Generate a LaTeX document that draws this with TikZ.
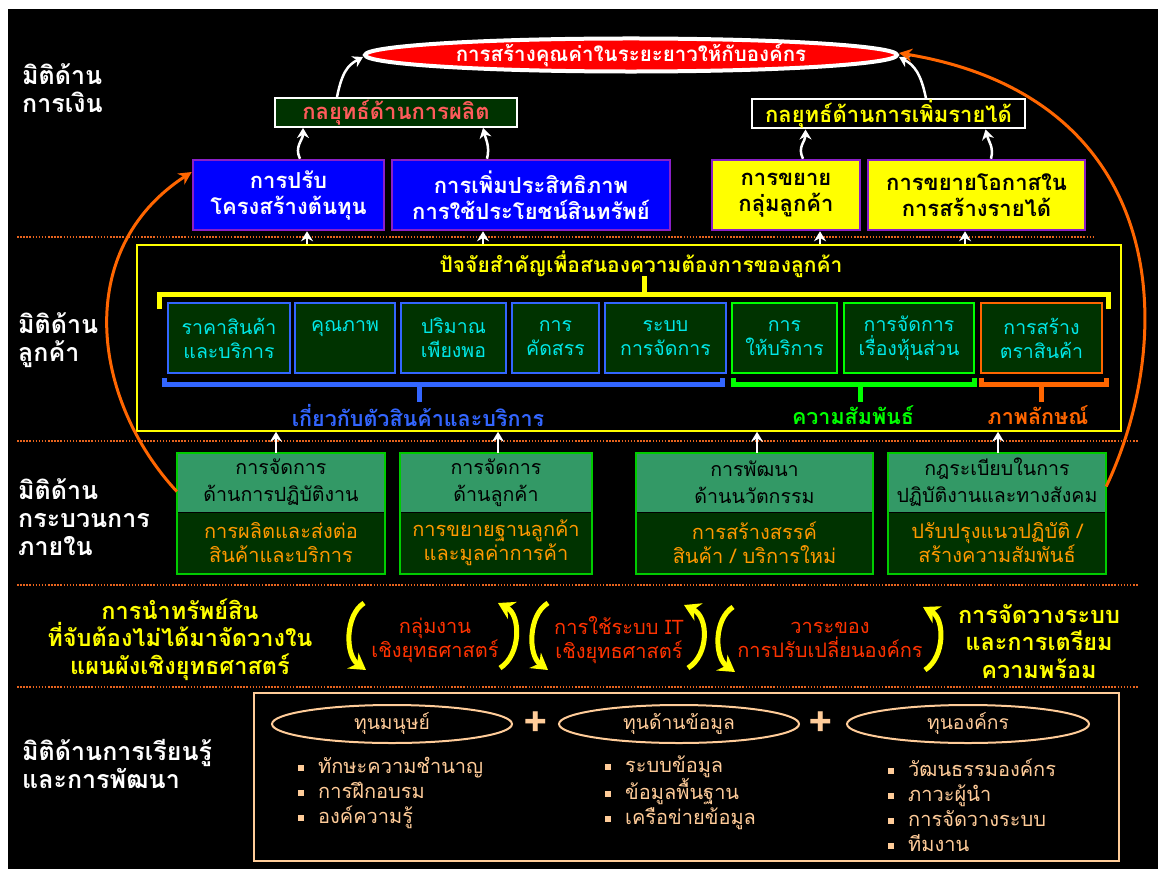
\documentclass[tikz,border=0pt]{standalone}
\usepackage{fontspec}
\newfontfamily\thf[Script=Thai]{Loma}
\usetikzlibrary{shapes.geometric,arrows.meta,calc}
\newcommand\myfs[2]{\fontsize{#1}{#2}\selectfont}
\definecolor{boxpurple}{HTML}{8A1FC8}
\definecolor{dkgreen}{HTML}{003300}
\definecolor{stratred}{HTML}{FF5B5B}
\definecolor{cyantext}{HTML}{00E8E8}
\definecolor{cblue}{HTML}{3366FF}
\definecolor{cgreen}{HTML}{00FF00}
\definecolor{corange}{HTML}{FF6600}
\definecolor{pgreen}{HTML}{00CC00}
\definecolor{midgreen}{HTML}{339966}
\definecolor{ptext}{HTML}{FF9900}
\definecolor{rtext}{HTML}{FF3300}
\definecolor{peach}{HTML}{FFCC99}
\definecolor{sepor}{HTML}{E8641E}
\definecolor{yel}{HTML}{FFFF00}
\begin{document}
\begin{tikzpicture}[x=1pt,y=-1pt,
  every node/.style={font=\thf},
  lbl/.style={text=white, font=\thf\bfseries\myfs{25}{28}, align=left, anchor=west, inner sep=0pt},
  goalshape/.style={ellipse, fill=red, draw=white, line width=4pt, minimum width=532pt, minimum height=30pt, inner sep=0pt, text=white, font=\thf\bfseries\myfs{20.5}{22}},
  strat/.style={draw=white, line width=2pt, minimum height=29pt, inner sep=0pt, font=\thf\bfseries\myfs{22}{24}},
  topbox/.style={draw=boxpurple, line width=2.5pt, minimum height=70pt, inner sep=0pt, align=center, font=\thf\bfseries\myfs{22}{26}},
  bluebox/.style={topbox, fill=blue, text=white},
  yelbox/.style={topbox, fill=yel, text=black},
  cbox/.style={fill=dkgreen, line width=2pt, minimum height=70pt, inner sep=0pt, align=center, text=cyantext, font=\thf\myfs{19.5}{24}},
  brk/.style={line width=5pt},
  blbl/.style={font=\thf\bfseries\myfs{21.5}{24}, inner sep=0pt},
  ptop/.style={fill=midgreen, minimum height=59pt, inner sep=0pt, align=center, text=black, font=\thf\myfs{19.6}{27}},
  pbot/.style={fill=dkgreen, minimum height=61pt, inner sep=0pt, align=center, text=ptext, font=\thf\myfs{20}{24}},
  pframe/.style={draw=pgreen, line width=2pt},
  sep/.style={draw=sepor, line width=1.5pt, dash pattern=on 1.5pt off 1.6pt},
  warrow/.style={draw=white, line width=2.5pt, -{Stealth[length=10pt,width=12pt]}},
  oarrow/.style={draw=corange, line width=3pt, -{Stealth[length=13pt,width=13pt]}},
  yarrow/.style={draw=yel, line width=5pt, -{Stealth[length=16pt,width=19pt]}},
  yboldtxt/.style={text=yel, font=\thf\bfseries\myfs{23.5}{27.5}, align=center, inner sep=0pt},
  redtxt/.style={text=rtext, font=\thf\myfs{20}{24}, align=center, inner sep=0pt},
  capell/.style={ellipse, draw=peach, line width=2pt, minimum width=240pt, minimum height=38pt, inner sep=0pt, text=peach, font=\thf\myfs{19.3}{22}},
  plus/.style={text=peach, font=\thf\bfseries\myfs{42}{42}, inner sep=0pt},
  blist/.style={text=peach, font=\thf\myfs{20}{25}, align=left, anchor=west, inner sep=0pt}
]
\newcommand\bul{\raisebox{3pt}{\rule{6pt}{6pt}}\hspace{14pt}}
\useasboundingbox (0,0) rectangle (1158,869);
\fill[white] (0,0) rectangle (1158,869);
\fill[black] (8,9) rectangle (1158,869);

% separators
\draw[sep] (17,237) -- (1094,237);
\draw[sep] (17,441) -- (1138,441);
\draw[sep] (17,585) -- (1138,585);
\draw[sep] (17,687) -- (1138,687);

% dimension labels
\node[lbl] (L1) at (22,88) {มิติด้าน\\การเงิน};
\node[lbl] (L2) at (18,340.5) {มิติด้าน\\ลูกค้า};
\node[lbl] (L3) at (18,517.5) {มิติด้าน\\กระบวนการ\\ภายใน};
\node[lbl] (L4) at (22,763.5) {มิติด้านการเรียนรู้\\และการพัฒนา};

% goal
\node[goalshape] (goal) at (631,55) {การสร้างคุณค่าในระยะยาวให้กับองค์กร};

% strategies
\node[strat, fill=dkgreen, text=stratred, minimum width=242pt] (s1) at (396,112.5) {กลยุทธ์ด้านการผลิต};
\node[strat, fill=black, text=yel, minimum width=273pt] (s2) at (888.5,114) {กลยุทธ์ด้านการเพิ่มรายได้};

% financial boxes
\node[bluebox, minimum width=191pt] (c1) at (288.5,195) {การปรับ\\โครงสร้างต้นทุน};
\node[bluebox, minimum width=278pt] (c2) at (531,195) {การเพิ่มประสิทธิภาพ\\การใช้ประโยชน์สินทรัพย์};
\node[yelbox, minimum width=148pt] (y1) at (786,195) {การขยาย\\กลุ่มลูกค้า};
\node[yelbox, minimum width=217pt] (y2) at (976.5,195) {การขยายโอกาสใน\\การสร้างรายได้};

% arrows in financial part
\draw[warrow] ([xshift=11.5pt]c1.north) .. controls +(-6,-12) and +(0,12) .. ([xshift=-93pt]s1.south);
\draw[warrow] ([xshift=-44pt]c2.north) .. controls +(3,-12) and +(3,12) .. ([xshift=87pt]s1.south);
\draw[warrow] ([xshift=17pt]y1.north) .. controls +(-6,-12) and +(0,12) .. ([xshift=-83pt]s2.south);
\draw[warrow] ([xshift=14.5pt]y2.north) .. controls +(3,-12) and +(3,12) .. ([xshift=97pt]s2.south);
\draw[warrow] ([xshift=-59pt]s1.north) .. controls +(5,-25) and +(-15,8) .. ([yshift=-2pt]goal.west);
\draw[warrow] ([xshift=37.5pt]s2.north) .. controls +(-5,-25) and +(15,8) .. ([yshift=-2pt]goal.east);

% customer frame
\node[draw=yel, line width=1.5pt, minimum width=984pt, minimum height=186pt, inner sep=0pt] (cf) at (629,338) {};
\node[text=yel, font=\thf\bfseries\myfs{21}{24}, inner sep=0pt] (ct) at (641,264) {ปัจจัยสำคัญเพื่อสนองความต้องการของลูกค้า};
\draw[brk, yel] (159,309) -- (159,294) -- (1108,294) -- (1108,309);
\draw[brk, yel] (644,294) -- (644,276);

\node[cbox, draw=cblue, minimum width=122pt] (b1) at (229,338) {ราคาสินค้า\\และบริการ};
\node[cbox, draw=cblue, minimum width=100pt] (b2) at (345,338) {คุณภาพ\\\mbox{}};
\node[cbox, draw=cblue, minimum width=105pt] (b3) at (453.5,338) {ปริมาณ\\เพียงพอ};
\node[cbox, draw=cblue, minimum width=87pt] (b4) at (555.5,338) {การ\\คัดสรร};
\node[cbox, draw=cblue, minimum width=121pt] (b5) at (665.5,338) {ระบบ\\การจัดการ};
\node[cbox, draw=cgreen, minimum width=105pt] (g1) at (784.5,338) {การ\\ให้บริการ};
\node[cbox, draw=cgreen, minimum width=130pt] (g2) at (909,338) {การจัดการ\\เรื่องหุ้นส่วน};
\node[cbox, draw=corange, minimum width=121pt] (o1) at (1041.5,338) {การสร้าง\\ตราสินค้า};

\draw[brk, cblue] (164,378) -- (164,384) -- (722,384) -- (722,378);
\draw[brk, cblue] (419,384) -- (419,402);
\node[blbl, text=cblue] (bl1) at (418,415) {เกี่ยวกับตัวสินค้าและบริการ};
\draw[brk, cgreen] (733,378) -- (733,384) -- (974,384) -- (974,378);
\draw[brk, cgreen] (860,384) -- (860,402);
\node[blbl, text=cgreen] (bl2) at (853,415) {ความสัมพันธ์};
\draw[brk, corange] (981,378) -- (981,384) -- (1106,384) -- (1106,378);
\draw[brk, corange] (1041,384) -- (1041,402);
\node[blbl, text=corange] (bl3) at (1038,415) {ภาพลักษณ์};

% arrows customer -> financial
\coordinate (t1) at ($(c1.south)+(18.5,0)$);
\coordinate (t2) at ($(c2.south)+(-48,0)$);
\coordinate (t3) at ($(y1.south)+(34,0)$);
\coordinate (t4) at ($(y2.south)+(-11.5,0)$);
\draw[warrow] (t1 |- cf.north) -- (t1);
\draw[warrow] (t2 |- cf.north) -- (t2);
\draw[warrow] (t3 |- cf.north) -- (t3);
\draw[warrow] (t4 |- cf.north) -- (t4);

% internal process boxes
\node[ptop, minimum width=208pt] (p1t) at (281,482.5) {การจัดการ\\ด้านการปฏิบัติงาน};
\node[pbot, minimum width=208pt] (p1b) at (281,543) {การผลิตและส่งต่อ\\สินค้าและบริการ};
\draw[pframe] (p1t.north west) rectangle (p1b.south east);
\node[ptop, minimum width=192pt] (p2t) at (496,482.5) {การจัดการ\\ด้านลูกค้า};
\node[pbot, minimum width=192pt] (p2b) at (496,543) {การขยายฐานลูกค้า\\และมูลค่าการค้า};
\draw[pframe] (p2t.north west) rectangle (p2b.south east);
\node[ptop, minimum width=237pt] (p3t) at (754.5,482.5) {การพัฒนา\\ด้านนวัตกรรม};
\node[pbot, minimum width=237pt] (p3b) at (754.5,543) {การสร้างสรรค์\\สินค้า / บริการใหม่};
\draw[pframe] (p3t.north west) rectangle (p3b.south east);
\node[ptop, minimum width=218pt] (p4t) at (997,482.5) {กฎระเบียบในการ\\ปฏิบัติงานและทางสังคม};
\node[pbot, minimum width=218pt] (p4b) at (997,543) {ปรับปรุงแนวปฏิบัติ /\\สร้างความสัมพันธ์};
\draw[pframe] (p4t.north west) rectangle (p4b.south east);

% arrows process -> customer
\coordinate (u1) at ($(p1t.north)+(-5,0)$);
\coordinate (u2) at ($(p2t.north)+(2,0)$);
\coordinate (u3) at ($(p3t.north)+(2.5,0)$);
\coordinate (u4) at ($(p4t.north)+(1,0)$);
\draw[warrow] (u1) -- (u1 |- cf.south);
\draw[warrow] (u2) -- (u2 |- cf.south);
\draw[warrow] (u3) -- (u3 |- cf.south);
\draw[warrow] (u4) -- (u4 |- cf.south);

% orange arcs
\draw[oarrow] ([yshift=-9pt]p1t.west) .. controls (92,400) and (72,250) .. ([yshift=23pt]c1.west);
\draw[oarrow] ([yshift=-4pt]p4t.east) .. controls (1178,335) and (1170,98) .. ([yshift=2pt]goal.east);

% learning-growth enablers row
\node[yboldtxt] (r1) at (180,639.5) {การนำทรัพย์สิน\\ที่จับต้องไม่ได้มาจัดวางใน\\แผนผังเชิงยุทธศาสตร์};
\node[yboldtxt] (r5) at (1039,641.5) {การจัดวางระบบ\\และการเตรียม\\ความพร้อม};
\node[redtxt] (r2) at (435,640) {กลุ่มงาน\\เชิงยุทธศาสตร์};
\node[redtxt] (r3) at (619,640) {การใช้ระบบ IT\\เชิงยุทธศาสตร์};
\node[redtxt] (r4) at (830,640) {วาระของ\\การปรับเปลี่ยนองค์กร};

\coordinate (q1a) at (364,603); \coordinate (q1b) at (366,670);
\coordinate (q2a) at (500,668); \coordinate (q2b) at (498,603);
\coordinate (q3a) at (548,603); \coordinate (q3b) at (548,670);
\coordinate (q4a) at (688,668); \coordinate (q4b) at (684,605);
\coordinate (q5a) at (733,607); \coordinate (q5b) at (735,672);
\coordinate (q6a) at (925,670); \coordinate (q6b) at (923,607);
\draw[yarrow] (q1a) .. controls (345,615) and (345,655) .. (q1b);
\draw[yarrow] (q2a) .. controls (521,655) and (521,615) .. (q2b);
\draw[yarrow] (q3a) .. controls (528,615) and (528,655) .. (q3b);
\draw[yarrow] (q4a) .. controls (709,655) and (709,617) .. (q4b);
\draw[yarrow] (q5a) .. controls (714,619) and (714,657) .. (q5b);
\draw[yarrow] (q6a) .. controls (945,657) and (945,619) .. (q6b);

% learning and growth
\node[draw=peach, line width=2pt, minimum width=865pt, minimum height=168pt, inner sep=0pt] (lb) at (686.5,777) {};
\node[capell] (k1) at (392,724) {ทุนมนุษย์};
\node[capell] (k2) at (679,724) {ทุนด้านข้อมูล};
\node[capell, minimum width=242pt] (k3) at (968,724) {ทุนองค์กร};
\node[plus] (pl1) at (536,724) {+};
\node[plus] (pl2) at (821,724) {+};
\node[blist] (m1) at (298,793) {\bul ทักษะความชำนาญ\\\bul การฝึกอบรม\\\bul องค์ความรู้};
\node[blist] (m2) at (605,793) {\bul ระบบข้อมูล\\\bul ข้อมูลพื้นฐาน\\\bul เครือข่ายข้อมูล};
\node[blist] (m3) at (888,805.5) {\bul วัฒนธรรมองค์กร\\\bul ภาวะผู้นำ\\\bul การจัดวางระบบ\\\bul ทีมงาน};
\end{tikzpicture}
\end{document}
